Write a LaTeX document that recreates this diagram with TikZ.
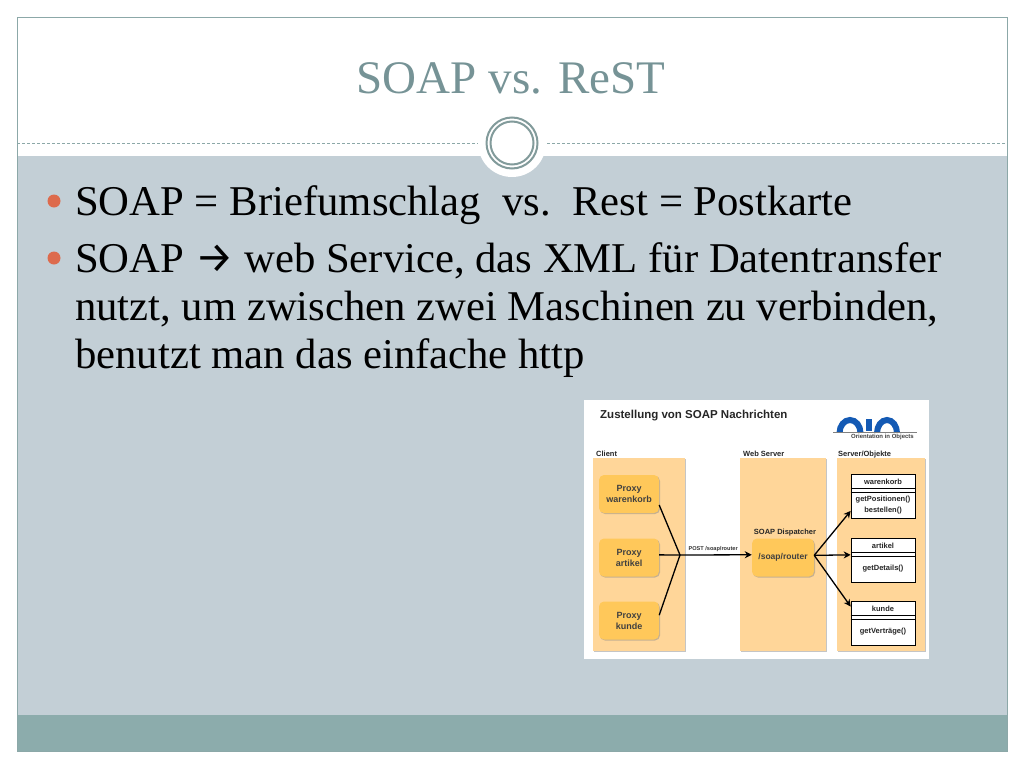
\documentclass[tikz,border=0pt]{standalone}
\usepackage{fontspec}
\setmainfont[FakeStretch=1.007]{Liberation Serif}
\setsansfont{Liberation Sans}
\newfontfamily\arrowfont{Fira Sans}
\usetikzlibrary{arrows.meta, shadows}
\definecolor{slidepanel}{RGB}{195,207,214}
\definecolor{slidefoot}{RGB}{140,172,172}
\definecolor{slideline}{RGB}{140,168,168}
\definecolor{slidering}{RGB}{130,155,155}
\definecolor{slidetitle}{RGB}{118,147,150}
\definecolor{slidedot}{RGB}{221,107,77}
\definecolor{inorange}{RGB}{255,214,153}
\definecolor{inproxy}{RGB}{255,200,90}
\definecolor{inblue}{RGB}{20,90,180}

\begin{document}
\begin{tikzpicture}[x=1pt, y=-1pt,
  every node/.style={inner sep=0pt},
  bodytext/.style={anchor=base west, font=\fontsize{42.4}{42}\selectfont, text=black},
  dot/.style={circle, fill=slidedot, minimum size=13pt},
  inhead/.style={anchor=base west, font=\sffamily\bfseries\fontsize{7.5}{8}\selectfont, text=black!85},
  panel/.style={fill=inorange, drop shadow={shadow xshift=1pt, shadow yshift=-1pt, fill=black!45, opacity=.5}},
  proxy/.style={rounded corners=5pt, fill=inproxy, minimum width=60pt, minimum height=38pt, align=center,
                font=\sffamily\bfseries\fontsize{9}{11}\selectfont, text=black!75,
                drop shadow={shadow xshift=1pt, shadow yshift=-1pt, fill=black!45, opacity=.5}},
  classbox/.style={draw=black, fill=white, line width=.7pt, minimum width=64pt, minimum height=44pt},
  classtext/.style={align=center, font=\sffamily\bfseries\fontsize{7.5}{10.5}\selectfont, text=black!85},
  flow/.style={-{Stealth[length=7pt, width=7pt]}, line width=1.3pt, black}]
  \useasboundingbox (0,0) rectangle (1024,768);

  % Slide frame, panel and footer
  \fill[slidepanel] (17,156) rectangle (1007,715);
  \fill[slidefoot] (17,715) rectangle (1007,751);
  \draw[slideline, line width=.8pt] (17,17) rectangle (1007,751);
  \node (title) at (511,78) {\fontsize{46.7}{47}\selectfont\color{slidetitle}SOAP vs. ReST};

  % Title rule and ring
  \draw[slideline, densely dashed, line width=.6pt] (17,143) -- (1007,143);
  \node[circle, fill=white, minimum size=68pt] (ringback) at (512,143) {};
  \node[circle, draw=slidering, fill=white, line width=2pt, minimum size=51pt] (ringout) at (512,143) {};
  \node[circle, draw=slidering, fill=white, line width=2pt, minimum size=43pt] (ringin) at (512,143) {};

  % Bullets
  \node[dot] (dot1) at (54,201) {};
  \node[dot] (dot2) at (54,258) {};
  \node[bodytext] (line1) at (75,215) {SOAP = Briefumschlag\ \ vs.\ \ Rest = Postkarte};
  \node[bodytext] (line2) at (75,272) {SOAP {\arrowfont\fontsize{43}{42}\selectfont →} web Service, das XML für Datentransfer};
  \node[bodytext] (line3) at (75,320) {nutzt, um zwischen zwei Maschinen zu verbinden,};
  \node[bodytext] (line4) at (75,368.5) {benutzt man das einfache http};

  % Inset picture
  \fill[white] (584,400) rectangle (929,659);
  \node[anchor=west, font=\sffamily\bfseries\fontsize{11.5}{12}\selectfont, text=black!85] (insettitle) at (600,416)
    {Zustellung von SOAP Nachrichten};

  % Logo
  \begin{scope}
    \clip (830,412) rectangle (920,431);
    \draw[inblue, line width=6pt] (850,433) ellipse (10.5pt and 13pt);
    \fill[inblue] (866,419) rectangle (872,431);
    \draw[inblue, line width=6pt] (887,433) ellipse (10pt and 13pt);
  \end{scope}
  \draw[black!50, line width=.7pt] (833,432) -- (917,432);
  \node[anchor=east, font=\sffamily\bfseries\fontsize{6}{6}\selectfont, text=black!75] (logotext) at (914,437)
    {Orientation in Objects};

  % Column headings and panels
  \node[inhead] (headc) at (596,456) {Client};
  \node[inhead] (headw) at (743,456) {Web Server};
  \node[inhead] (heads) at (838,456) {Server/Objekte};
  \path[panel] (593,458) rectangle (685,651);
  \path[panel] (740,458) rectangle (826,651);
  \path[panel] (837,458) rectangle (925,651);

  % Proxies
  \node[proxy] (pxw) at (629,494) {Proxy\\warenkorb};
  \node[proxy] (pxa) at (629,557.5) {Proxy\\artikel};
  \node[proxy] (pxk) at (629,620.5) {Proxy\\kunde};

  % Dispatcher
  \node[classtext, anchor=south] (disphead) at (785,536) {SOAP Dispatcher};
  \node[proxy, minimum width=62pt] (rtr) at (783,557.5) {\fontsize{8.5}{11}\selectfont /soap/router};

  % Classes
  \node[classbox] (clsw) at (883,496.5) {};
  \node[classbox] (clsa) at (883,560) {};
  \node[classbox] (clsk) at (883,623) {};
  \draw[line width=.7pt] (clsw.west |- 0,488) -- (clsw.east |- 0,488) (clsw.west |- 0,492) -- (clsw.east |- 0,492);
  \draw[line width=.7pt] (clsa.west |- 0,552) -- (clsa.east |- 0,552) (clsa.west |- 0,556) -- (clsa.east |- 0,556);
  \draw[line width=.7pt] (clsk.west |- 0,615) -- (clsk.east |- 0,615) (clsk.west |- 0,619) -- (clsk.east |- 0,619);
  \node[classtext] (namew) at (883,482) {warenkorb};
  \node[classtext] (metw) at (883,505) {getPositionen()\\bestellen()};
  \node[classtext] (namea) at (883,545.5) {artikel};
  \node[classtext] (meta) at (883,569) {getDetails()};
  \node[classtext] (namek) at (883,609) {kunde};
  \node[classtext] (metk) at (883,632) {getVerträge()};

  % Connectors
  \coordinate (hub) at (680,555);
  \draw[line width=1.3pt] (pxw.-20) -- (hub);
  \draw[line width=1.3pt] (pxa.5) -- (hub);
  \draw[line width=1.3pt] (pxk.10) -- (hub);
  \draw[flow] (hub) -- (rtr.175)
    node[pos=.11, above=2.5pt, anchor=south west, font=\sffamily\bfseries\fontsize{5.6}{6}\selectfont, text=black!80] (postlabel) {POST /soap/router};
  \draw[flow] (rtr.4) -- (clsw.-156);
  \draw[flow] (rtr.4) -- (clsa.171);
  \draw[flow] (rtr.4) -- (clsk.153);
\end{tikzpicture}
\end{document}
